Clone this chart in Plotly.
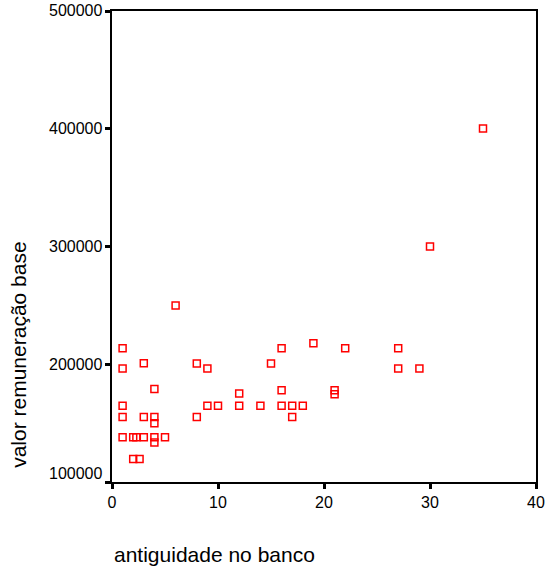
import plotly.graph_objects as go

antiguidade = [6, 1, 1, 3, 8, 9, 15, 16, 4, 12, 16, 1, 9, 10, 12, 14, 16, 17, 18,
               17, 1, 3, 4, 4, 8, 1, 2, 2.3, 3, 4, 4, 5, 2, 2.6, 19, 22, 27, 27,
               29, 21, 21, 35, 30]
remuneracao = [250000, 213600, 196300, 200800, 200600, 196300, 200600, 213600,
               179000, 175200, 178000, 164700, 164700, 164700, 164700, 164700,
               164700, 164700, 164700, 155300, 155300, 155300, 155300, 150000,
               155300, 138100, 138100, 138100, 138100, 138100, 133600, 138100,
               119500, 119500, 217800, 213600, 213600, 196300, 196300, 178000,
               174500, 400300, 300000]

x_ticks = [0, 10, 20, 30, 40]
y_ticks = [100000, 200000, 300000, 400000, 500000]

fig = go.Figure()
fig.add_trace(go.Scatter(
    x=antiguidade, y=remuneracao, mode="markers",
    marker=dict(symbol="square-open", size=7, color="#ff0000",
                line=dict(width=1.5, color="#ff0000")),
    showlegend=False, hoverinfo="x+y"))

font = dict(family="Liberation Sans, Arial, sans-serif", color="#000000")

# y tick labels as annotations so the lowest one can sit slightly higher
ytick_ann = []
for v in y_ticks:
    ytick_ann.append(dict(
        text=str(v), xref="paper", yref="y", x=0, y=v,
        xanchor="right", yanchor="middle", xshift=-8,
        yshift=9 if v == y_ticks[0] else (1 if v == y_ticks[-1] else 0),
        showarrow=False, font=dict(**font, size=16)))

fig.update_layout(
    width=550, height=573,
    margin=dict(l=112, r=14, t=11, b=91),
    paper_bgcolor="white", plot_bgcolor="white",
    font=dict(**font, size=16),
    xaxis=dict(range=[0, 40], tickvals=x_ticks, ticktext=[str(v) for v in x_ticks],
               showgrid=False, zeroline=False, showline=True, linecolor="black",
               linewidth=1.5, mirror=True, ticks="outside", ticklen=5, tickwidth=2.5,
               tickcolor="black", tickfont=dict(**font, size=16), automargin=False),
    yaxis=dict(range=[100000, 500000], tickvals=y_ticks, showticklabels=False,
               showgrid=False, zeroline=False, showline=True, linecolor="black",
               linewidth=1.5, mirror=True, ticks="outside", ticklen=5, tickwidth=2.5,
               tickcolor="black", automargin=False),
    annotations=ytick_ann + [
        dict(text="antiguidade no banco", xref="paper", yref="paper",
             x=0.0, y=0, xanchor="left", yanchor="middle", yshift=-72,
             showarrow=False, font=dict(**font, size=21)),
        dict(text="valor remuneração base", xref="paper", yref="paper",
             x=0, y=0.27, xanchor="center", yanchor="middle", xshift=-93,
             textangle=-90, showarrow=False, font=dict(**font, size=21)),
    ],
)

fig.write_html("out.html", config={"displayModeBar": False},
               post_script="document.body.style.margin='0px';")
